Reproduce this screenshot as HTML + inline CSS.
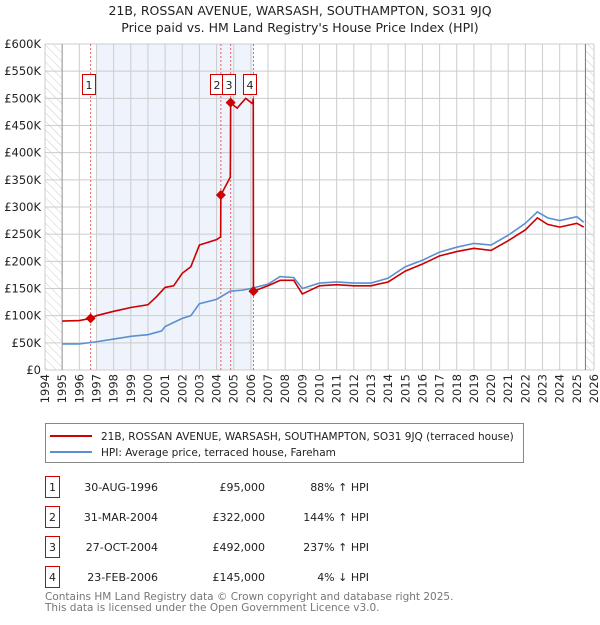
<!DOCTYPE html>
<html><head><meta charset="utf-8"><style>
body{margin:0;background:#fff;font-family:"Liberation Sans","DejaVu Sans",sans-serif;}
svg text{font-family:"DejaVu Sans","Liberation Sans",sans-serif;}
</style></head><body>
<svg id="c" width="600" height="620" xmlns="http://www.w3.org/2000/svg">
<defs><pattern id="hatch" width="6" height="6" patternUnits="userSpaceOnUse" patternTransform="rotate(-45)"><line x1="0" y1="0" x2="0" y2="6" stroke="#ccc" stroke-width="1"/></pattern></defs>
<text x="300" y="15" text-anchor="middle" font-size="12.5" fill="#222">21B, ROSSAN AVENUE, WARSASH, SOUTHAMPTON, SO31 9JQ</text>
<text x="300" y="32" text-anchor="middle" font-size="12.5" fill="#222">Price paid vs. HM Land Registry's House Price Index (HPI)</text>
<g id="plot"></g>
<g>
<rect x="45.5" y="423.5" width="478" height="39" fill="#fff" stroke="#888"/>
<line x1="50" y1="436" x2="92" y2="436" stroke="#cc0000" stroke-width="2"/>
<text x="101" y="440" font-size="10.5" fill="#222">21B, ROSSAN AVENUE, WARSASH, SOUTHAMPTON, SO31 9JQ (terraced house)</text>
<line x1="50" y1="452" x2="92" y2="452" stroke="#5b8fd0" stroke-width="2"/>
<text x="101" y="456" font-size="10.5" fill="#222">HPI: Average price, terraced house, Fareham</text>
</g>
<g id="tbl" font-size="11" fill="#222"></g>
<text x="45" y="600" font-size="10.5" fill="#777">Contains HM Land Registry data © Crown copyright and database right 2025.</text>
<text x="45" y="611" font-size="10.5" fill="#777">This data is licensed under the Open Government Licence v3.0.</text>
</svg>
<script>
const hpiYears=[1995,1996,1997,1998,1999,2000,2000.8,2001,2002,2002.5,2003,2004,2004.8,2005.5,2006,2007,2007.7,2008.5,2009,2010,2011,2012,2013,2014,2015,2016,2017,2018,2019,2020,2021,2022,2022.7,2023.3,2024,2025,2025.4];
const hpiValues=[48,48,52,57,62,65,72,80,95,100,122,130,145,147,150,158,172,170,150,160,162,160,160,169,190,202,217,226,233,230,248,270,291,280,275,282,272];
const ppYears=[1995,1996,1996.66,1997,1998,1999,2000,2000.5,2001,2001.5,2002,2002.5,2003,2004,2004.24,2004.25,2004.8,2004.81,2004.82,2005.2,2005.7,2006.1,2006.14,2006.15,2007,2007.7,2008.5,2009,2010,2011,2012,2013,2014,2015,2016,2017,2018,2019,2020,2021,2022,2022.7,2023.3,2024,2025,2025.4];
const ppValues=[90,91,95,100,108,115,120,135,152,155,178,190,230,240,245,322,355,400,492,482,500,490,500,145,155,165,165,140,155,157,155,155,162,182,195,210,218,224,220,238,258,280,268,263,270,263];
const yTicks=[0,50,100,150,200,250,300,350,400,450,500,550,600];
const xTicks=[1994,1995,1996,1997,1998,1999,2000,2001,2002,2003,2004,2005,2006,2007,2008,2009,2010,2011,2012,2013,2014,2015,2016,2017,2018,2019,2020,2021,2022,2023,2024,2025,2026];
const saleLabels=["1","2","3","4"];
const saleYears=[1996.66,2004.25,2004.82,2006.15];
const saleValues=[95,322,492,145];
const saleDates=["30-AUG-1996","31-MAR-2004","27-OCT-2004","23-FEB-2006"];
const salePrices=["£95,000","£322,000","£492,000","£145,000"];
const saleHpi=["88% ↑ HPI","144% ↑ HPI","237% ↑ HPI","4% ↓ HPI"];
const NS="http://www.w3.org/2000/svg";
const X0=45,X1=594,Y0=370,Y1=44;
const xs=y=>X0+(y-1994)/(2026-1994)*(X1-X0);
const ys=v=>Y0-v/600*(Y0-Y1);
const plot=document.getElementById('plot');
function mk(t,a,p){const e=document.createElementNS(NS,t);for(const k in a)e.setAttribute(k,a[k]);(p||plot).appendChild(e);return e;}
let e;
e=mk('rect',{x:xs(1997),y:Y1,width:xs(2006.15)-xs(1997),height:Y0-Y1,fill:'#eef3fc'});


e=mk('rect',{x:X0,y:Y1,width:xs(1995)-X0,height:Y0-Y1,fill:'url(#hatch)'});


e=mk('rect',{x:xs(2025.5),y:Y1,width:X1-xs(2025.5),height:Y0-Y1,fill:'url(#hatch)'});


yTicks.forEach(v=>{
 e=mk('line',{x1:X0,x2:X1,y1:ys(v),y2:ys(v),stroke:'#ccc'});
 
 
 e=mk('text',{x:X0-4,y:ys(v)+4,'text-anchor':'end','font-size':'11.5',fill:'#222'});
 e.textContent=v===0?'£0':'£'+v+'K';
 
 
});
xTicks.forEach(y=>{
 e=mk('line',{x1:xs(y),x2:xs(y),y1:Y1,y2:Y0,stroke:'#ccc'});
 
 
 e=mk('text',{x:xs(y)+4,y:Y0+4,'text-anchor':'end','font-size':'11.5',fill:'#222',transform:`rotate(-90 ${xs(y)+4} ${Y0+4})`});
 e.textContent=y;
 
 
});
e=mk('line',{x1:xs(1995),x2:xs(1995),y1:Y1,y2:Y0,stroke:'#999'});


e=mk('line',{x1:xs(2025.5),x2:xs(2025.5),y1:Y1,y2:Y0,stroke:'#777'});


saleYears.forEach((y,i)=>{
 e=mk('line',{x1:xs(y),x2:xs(y),y1:Y1,y2:Y0,stroke:'#e06666','stroke-dasharray':'2,2'});
 
 
});
e=mk('polyline',{points:hpiYears.map((y,i)=>xs(y)+','+ys(hpiValues[i])).join(' '),fill:'none',stroke:'#5b8fd0','stroke-width':1.6});


e=mk('polyline',{points:ppYears.map((y,i)=>xs(y)+','+ys(ppValues[i])).join(' '),fill:'none',stroke:'#cc0000','stroke-width':1.6});


const boxOff=[-9,-11,-8.5,-10];
saleYears.forEach((y,i)=>{
 const cx=xs(y),cy=ys(saleValues[i]);
 e=mk('polygon',{points:`${cx},${cy-5} ${cx+5},${cy} ${cx},${cy+5} ${cx-5},${cy}`,fill:'#cc0000'});
 
 
 const bx=Math.round(cx+boxOff[i]);
 e=mk('rect',{x:bx+.5,y:74.5,width:13,height:20,fill:'#fff',stroke:'#cc0000'});
 
 
 e=mk('text',{x:bx+7,y:89,'text-anchor':'middle','font-size':'11',fill:'#222'});
 e.textContent=saleLabels[i];
 
 
});
const tbl=document.getElementById('tbl');
const rowY=[487,517,547,577];
saleLabels.forEach((l,i)=>{
 const cy=rowY[i];
 e=mk('rect',{x:45.5,y:cy-10.5,width:14,height:21,fill:'#fff',stroke:'#cc0000'},tbl);
 
 
 e=mk('text',{x:52.5,y:cy+4,'text-anchor':'middle'},tbl);e.textContent=l;
 
 
 e=mk('text',{x:158,y:cy+4,'text-anchor':'end'},tbl);e.textContent=saleDates[i];
 
 
 e=mk('text',{x:265,y:cy+4,'text-anchor':'end'},tbl);e.textContent=salePrices[i];
 
 
 e=mk('text',{x:369,y:cy+4,'text-anchor':'end'},tbl);e.textContent=saleHpi[i];
 
 
});
</script>
</body></html>
